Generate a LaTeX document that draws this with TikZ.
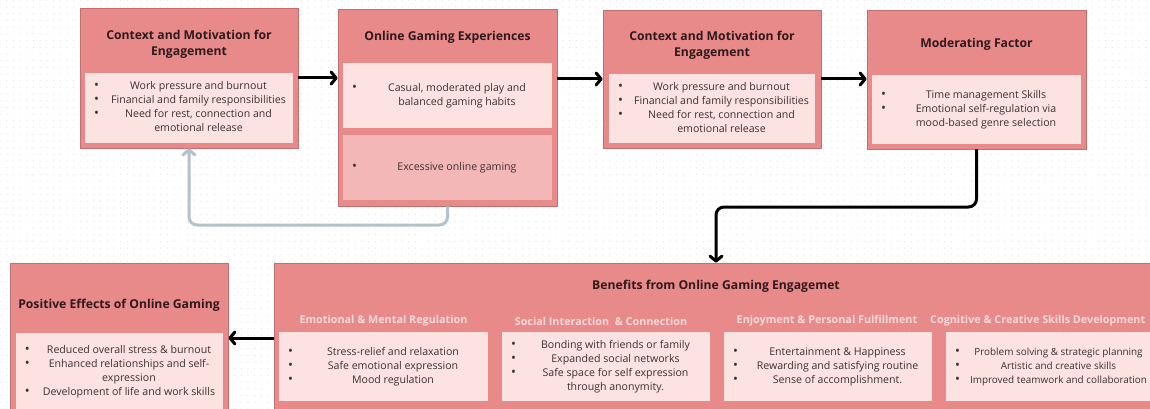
\documentclass[tikz,border=0pt]{standalone}
\usepackage{fontspec}
\setmainfont{Open Sans}
\usepackage{array}
\usetikzlibrary{arrows.meta,patterns.meta}

\definecolor{boxfill}{HTML}{E8898A}
\definecolor{boxedge}{HTML}{C46E70}
\definecolor{panel}{HTML}{FDE2E2}
\definecolor{panelmid}{HTML}{F4B7B7}
\definecolor{heading}{HTML}{2E1A1B}
\definecolor{bodytext}{HTML}{3B3030}
\definecolor{subhead}{HTML}{FADADA}
\definecolor{loopc}{HTML}{B3C2CA}
\definecolor{dotc}{HTML}{E4E4E4}

\newcommand{\bodyfont}{\fontsize{10.6}{14}\selectfont}
\newcommand{\smallbody}{\fontsize{9.9}{14}\selectfont}
\newcommand{\headfont}{\fontsize{12.2}{16}\selectfont\bfseries}
\newcommand{\subfont}{\fontsize{10.8}{14}\selectfont\bfseries}
% list bullet, a little heavier than the text bullet
\newcommand{\bul}{{\fontsize{13}{14}\selectfont\textbullet}}
% one centred line of a bullet list
\newcommand{\cl}[1]{\makebox[\linewidth]{#1}}
% bullet list: fixed bullet column, text centred in the rest of the panel
\newcommand{\blist}[2]{{\bodyfont\color{bodytext}%
  \begin{tabular}{@{\hspace{9pt}}p{10pt}@{}p{#1}@{}}#2\end{tabular}}}

\tikzdeclarepattern{
  name=bgdots,
  type=uncolored,
  bounding box={(-3.35pt,-3.35pt) and (3.35pt,3.35pt)},
  tile size={(6.7pt,6.7pt)},
  code={\fill (0pt,0pt) circle (0.6pt);}
}

\tikzset{
  outer/.style={draw=boxedge, line width=0.8pt, fill=boxfill, inner sep=0pt},
  pane/.style={fill=panel, inner sep=0pt},
  panemid/.style={fill=panelmid, inner sep=0pt},
  heading/.style={font=\headfont, text=heading, align=center, inner sep=0pt},
  subhead/.style={font=\subfont, text=subhead, inner sep=0pt},
  flow/.style={draw=black, line width=3pt, line join=round,
    -{Straight Barb[length=5pt,width=12pt,line cap=round,line join=round]}},
  backloop/.style={draw=loopc, line width=3pt, line join=round,
    -{Straight Barb[length=5pt,width=12pt,line cap=round,line join=round]}}
}

\begin{document}
\begin{tikzpicture}[x=1pt,y=-1pt]
\useasboundingbox (0,0) rectangle (1150,409);
\clip (0,0) rectangle (1150,409);
\fill[white] (0,0) rectangle (1150,409);
\fill[pattern=bgdots, pattern color=dotc] (0,0) rectangle (1150,409);

% ---- top row ----
\node[outer, minimum width=218pt, minimum height=140pt] (b1) at (189,78) {};
\node[heading] (b1t) at (189,44) {Context and Motivation for\\Engagement};
\node[pane, minimum width=208pt, minimum height=70pt] (b1p) at (189,108) {\blist{189pt}{%
  \bul & \cl{Work pressure and burnout}\\
  \bul & \cl{Financial and family responsibilities}\\
  \bul & \cl{Need for rest, connection and}\\
       & \cl{emotional release}\\}};

\node[outer, minimum width=219pt, minimum height=197pt] (b2) at (447.5,107.5) {};
\node[heading] (b2t) at (447.5,37) {Online Gaming Experiences};
\node[pane, minimum width=209pt, minimum height=65pt] (b2p1) at (447.5,95.5) {\blist{190pt}{%
  \bul & \cl{Casual, moderated play and}\\
       & \cl{balanced gaming habits}\\}};
\node[panemid, minimum width=209pt, minimum height=65pt] (b2p2) at (447.5,167.5) {\blist{190pt}{%
  \bul & \cl{Excessive online gaming}\\}};

\node[outer, minimum width=218pt, minimum height=138pt] (b3) at (712,79) {};
\node[heading] (b3t) at (712,45) {Context and Motivation for\\Engagement};
\node[pane, minimum width=206pt, minimum height=69pt] (b3p) at (712,108.5) {\blist{187pt}{%
  \bul & \cl{Work pressure and burnout}\\
  \bul & \cl{Financial and family responsibilities}\\
  \bul & \cl{Need for rest, connection and}\\
       & \cl{emotional release}\\}};

\node[outer, minimum width=219pt, minimum height=139pt] (b4) at (976.5,79.5) {};
\node[heading] (b4t) at (976.5,44) {Moderating Factor};
\node[pane, minimum width=209pt, minimum height=69pt] (b4p) at (976.5,109.5) {\blist{190pt}{%
  \bul & \cl{Time management Skills}\\
  \bul & \cl{Emotional self-regulation via}\\
       & \cl{mood-based genre selection}\\}};

% ---- bottom row ----
\node[outer, minimum width=218pt, minimum height=157pt] (pos) at (119,341.5) {};
\node[heading] (post) at (119,305) {Positive Effects of Online Gaming};
\node[pane, minimum width=207pt, minimum height=77pt] (posp) at (119.5,371.5) {\blist{188pt}{%
  \bul & \cl{Reduced overall stress \& burnout}\\
  \bul & \cl{Enhanced relationships and self-}\\
       & \cl{expression}\\
  \bul & \cl{Development of life and work skills}\\}};

\node[outer, minimum width=886pt, minimum height=157pt] (ben) at (717,341.5) {};
\node[heading] (bent) at (716,286) {Benefits from Online Gaming Engagemet};

\node[subhead] (s1) at (383.5,321) {Emotional \& Mental Regulation};
\node[pane, minimum width=209pt, minimum height=69pt] (i1) at (383.5,366.5) {\blist{190pt}{%
  \bul & \cl{Stress-relief and relaxation}\\
  \bul & \cl{Safe emotional expression}\\
  \bul & \cl{Mood regulation}\\}};

\node[subhead] (s2) at (601,321) {Social Interaction~ \& Connection};
\node[pane, minimum width=208pt, minimum height=69pt] (i2) at (606,366.5) {\blist{189pt}{%
  \bul & \cl{Bonding with friends or family}\\
  \bul & \cl{Expanded social networks}\\
  \bul & \cl{Safe space for self expression}\\
       & \cl{through anonymity.}\\}};

\node[subhead] (s3) at (827,321) {Enjoyment \& Personal Fulfillment};
\node[pane, minimum width=208pt, minimum height=69pt] (i3) at (828,366.5) {\blist{189pt}{%
  \bul & \cl{Entertainment \& Happiness}\\
  \bul & \cl{Rewarding and satisfying routine}\\
  \bul & \cl{Sense of accomplishment.}\\}};

\node[subhead, anchor=west] (s4) at (930,321) {Cognitive \& Creative Skills Development};
\node[pane, minimum width=206pt, minimum height=69pt] (i4) at (1049,366.5) {\blist{187pt}{%
  \bul & \cl{\smallbody Problem solving \& strategic planning}\\
  \bul & \cl{\smallbody Artistic and creative skills}\\
  \bul & \cl{\smallbody Improved teamwork and collaboration}\\}};

% ---- connectors ----
\draw[flow] (b1.east) -- (b1.east -| b2.west);
\draw[flow] (b3.west -| b2.east) -- (b3.west);
\draw[flow] (b3.east) -- (b3.east -| b4.west);

\coordinate (bend) at (716,207);
\draw[flow, rounded corners=8pt] (b4.south) |- (bend) -- (bend |- ben.north);

\coordinate (loopbend) at (189,225);
\draw[backloop, rounded corners=8pt] (b2.south) |- (loopbend) -- (b1.south);

\coordinate (lvl) at (250,338);
\draw[flow] (ben.west |- lvl) -- (pos.east |- lvl);
\end{tikzpicture}
\end{document}
